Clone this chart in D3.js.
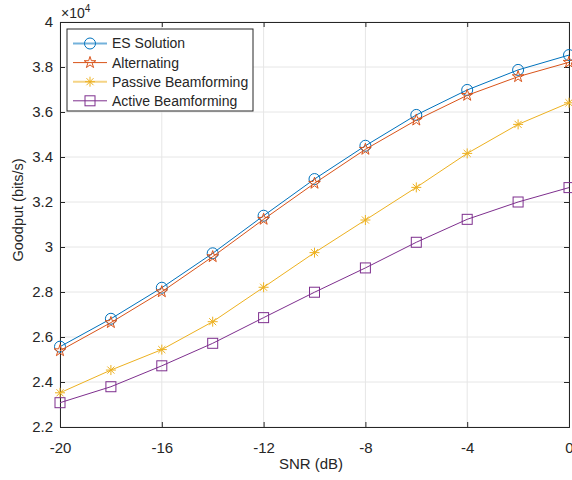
<!DOCTYPE html>
<html lang="en">
<head>
<meta charset="UTF-8">
<title>Goodput vs SNR</title>
<script src="https://cdn.jsdelivr.net/npm/d3@7/dist/d3.min.js"></script>
<style>
  body { margin: 0; background: #fff; }
  text { font-family: "Liberation Sans", Arial, sans-serif; fill: #262626; }
</style>
</head>
<body>
<script>
// data (goodput in bits/s)
var snr = [-20, -18, -16, -14, -12, -10, -8, -6, -4, -2, 0]
var esSolution = [25570, 26810, 28190, 29720, 31390, 33020, 34500, 35870, 36980, 37870, 38530]
var alternating = [25390, 26640, 28010, 29570, 31230, 32830, 34340, 35640, 36740, 37570, 38210]
var passiveBf = [23520, 24530, 25440, 26680, 28210, 29750, 31200, 32650, 34160, 35450, 36410]
var activeBf = [23080, 23790, 24720, 25720, 26860, 27990, 29070, 30210, 31230, 32000, 32640]
var seriesNames = ['ES Solution', 'Alternating', 'Passive Beamforming', 'Active Beamforming']
var xTicks = [-20, -16, -12, -8, -4, 0]
var yTicks = [22000, 24000, 26000, 28000, 30000, 32000, 34000, 36000, 38000, 40000]

var width = 572
    height = 480
    margin = { top: 22, right: 3, bottom: 53, left: 60 }
    colors = ['#0072BD', '#D95319', '#EDB120', '#7E2F8E']
    markers = ['circle', 'star', 'asterisk', 'square']
    allSeries = [esSolution, alternating, passiveBf, activeBf]

var svg = d3.select('body').append('svg')
    .attr('width', width)
    .attr('height', height)

var x = d3.scaleLinear().domain([-20, 0]).range([margin.left, width - margin.right])
var y = d3.scaleLinear().domain([22000, 40000]).range([height - margin.bottom, margin.top])
var x0 = x.range()[0], x1 = x.range()[1], y0 = y.range()[0], y1 = y.range()[1]

// grid
svg.append('g').selectAll('line').data(xTicks).enter().append('line')
    .attr('x1', d => x(d)).attr('x2', d => x(d)).attr('y1', y0).attr('y2', y1)
    .attr('stroke', '#e6e6e6').attr('stroke-width', 1)
svg.append('g').selectAll('line').data(yTicks).enter().append('line')
    .attr('x1', x0).attr('x2', x1).attr('y1', d => y(d)).attr('y2', d => y(d))
    .attr('stroke', '#e6e6e6').attr('stroke-width', 1)

// axes, ticks pointing inward, box on
var fmt = d => String(+(d / 1e4).toFixed(1))
svg.append('g').attr('transform', 'translate(0,' + y0 + ')')
    .call(d3.axisBottom(x).tickValues(xTicks).tickSize(-5).tickPadding(15).tickFormat(d => String(d)))
svg.append('g').attr('transform', 'translate(0,' + y1 + ')')
    .call(d3.axisTop(x).tickValues(xTicks).tickSize(-5).tickFormat(''))
svg.append('g').attr('transform', 'translate(' + x0 + ',0)')
    .call(d3.axisLeft(y).tickValues(yTicks).tickSize(-5).tickPadding(7).tickFormat(fmt))
svg.append('g').attr('transform', 'translate(' + x1 + ',0)')
    .call(d3.axisRight(y).tickValues(yTicks).tickSize(-5).tickFormat(''))
svg.selectAll('.domain').attr('stroke', '#262626').attr('stroke-width', 1)
svg.selectAll('.tick line').attr('stroke', '#262626')
svg.selectAll('.tick text').style('font-size', '15px').attr('fill', '#262626')
    .style('font-family', '"Liberation Sans", Arial, sans-serif')

// markers
function drawMarker(g, type, color, cx, cy) {
    if (type === 'circle') {
        g.append('circle').attr('cx', cx).attr('cy', cy).attr('r', 5.5)
            .attr('fill', 'none').attr('stroke', color).attr('stroke-width', 1)
    } else if (type === 'square') {
        g.append('rect').attr('x', cx - 5).attr('y', cy - 5).attr('width', 10).attr('height', 10)
            .attr('fill', 'none').attr('stroke', color).attr('stroke-width', 1)
    } else if (type === 'star') {
        g.append('path').attr('d', d3.symbol(d3.symbolStar, 42)())
            .attr('transform', 'translate(' + cx + ',' + cy + ')')
            .attr('fill', 'none').attr('stroke', color).attr('stroke-width', 1)
    } else {
        var r = 5, p = ''
        for (var k = 0; k < 4; k++) {
            var a = k * Math.PI / 4
            p += 'M' + (cx - r * Math.cos(a)) + ',' + (cy - r * Math.sin(a)) +
                 'L' + (cx + r * Math.cos(a)) + ',' + (cy + r * Math.sin(a))
        }
        g.append('path').attr('d', p).attr('stroke', color).attr('stroke-width', 1)
    }
}

var line = d3.line().x((d, i) => x(snr[i])).y(d => y(d))
allSeries.forEach(function (vals, s) {
    var g = svg.append('g')
    g.append('path').datum(vals).attr('d', line)
        .attr('fill', 'none').attr('stroke', colors[s]).attr('stroke-width', 1)
    vals.forEach(function (v, i) { drawMarker(g, markers[s], colors[s], x(snr[i]), y(v)) })
})

// axis labels
svg.append('text').attr('x', 311).attr('y', 469).attr('text-anchor', 'middle')
    .style('font-size', '15px').text('SNR (dB)')
svg.append('text').attr('transform', 'translate(23,210) rotate(-90)')
    .attr('text-anchor', 'middle').style('font-size', '14.5px').text('Goodput (bits/s)')
var ex = svg.append('text').attr('x', x0 + 1).attr('y', 18).style('font-size', '14px')
ex.append('tspan').text('\u00d710')
ex.append('tspan').attr('dy', -6).style('font-size', '10px').text('4')

// legend
var lg = svg.append('g')
lg.append('rect').attr('x', 67).attr('y', 29).attr('width', 186).attr('height', 82)
    .attr('fill', '#fff').attr('stroke', '#262626').attr('stroke-width', 1)
seriesNames.forEach(function (name, s) {
    var ly = 43.5 + s * 19.1
    var soft = (s === 0 || s === 2)
    lg.append('line').attr('x1', 73).attr('x2', 107).attr('y1', ly).attr('y2', ly)
        .attr('stroke', colors[s]).attr('stroke-width', soft ? 2 : 1)
        .attr('stroke-opacity', soft ? 0.55 : 1)
    drawMarker(lg, markers[s], colors[s], 90, ly)
    lg.append('text').attr('x', 112).attr('y', ly).attr('dy', '0.35em')
        .style('font-size', '14px').text(name)
})
</script>
</body>
</html>
